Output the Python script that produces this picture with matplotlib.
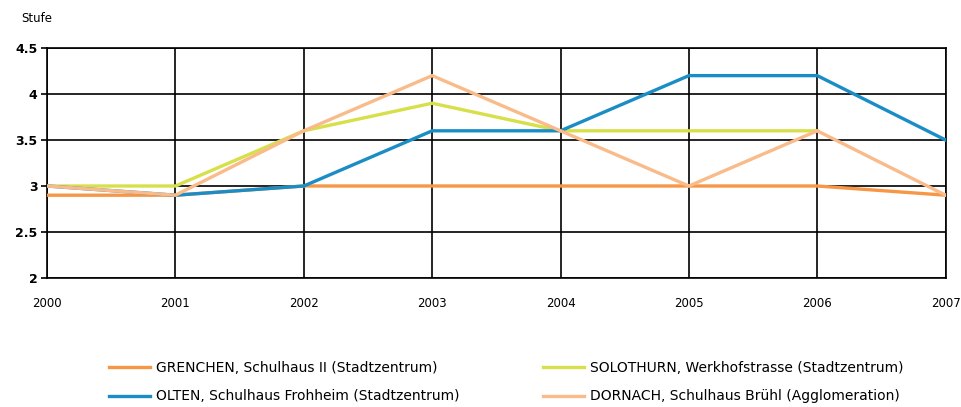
import numpy as np
import matplotlib.pyplot as plt

years = [2000, 2001, 2002, 2003, 2004, 2005, 2006, 2007]
grenchen = [2.9, 2.9, 3.0, 3.0, 3.0, 3.0, 3.0, 2.9]
solothurn = [3.0, 3.0, 3.6, 3.9, 3.6, 3.6, 3.6, np.nan]
olten = [3.0, 2.9, 3.0, 3.6, 3.6, 4.2, 4.2, 3.5]
dornach = [3.0, 2.9, 3.6, 4.2, 3.6, 3.0, 3.6, 2.9]

labels = ["GRENCHEN, Schulhaus II (Stadtzentrum)",
          "SOLOTHURN, Werkhofstrasse (Stadtzentrum)",
          "OLTEN, Schulhaus Frohheim (Stadtzentrum)",
          "DORNACH, Schulhaus Brühl (Agglomeration)"]
colors = ["#F79646", "#D7E04A", "#1A8CC6", "#F9BB8A"]

fig = plt.figure(figsize=(9.61, 4.07), dpi=100)
ax = fig.add_axes([0.049, 0.317, 0.935, 0.565])

lines = {}
for name, vals, col in zip(labels, [grenchen, solothurn, olten, dornach], colors):
    lines[name], = ax.plot(years, vals, color=col, lw=2.4, label=name,
                           solid_joinstyle="miter", zorder=3)
# dornach sits over olten at the start
lines[labels[3]].set_zorder(3.5)

ax.set_xlim(2000, 2007)
ax.set_ylim(2, 4.5)
ax.set_xticks(years)
ax.set_yticks([2, 2.5, 3, 3.5, 4, 4.5])
ax.set_yticklabels(["2", "2.5", "3", "3.5", "4", "4.5"], fontweight="bold")
ax.grid(True, color="black", lw=1.2, zorder=1)
for s in ax.spines.values():
    s.set_color("black")
    s.set_linewidth(1.2)
ax.tick_params(axis="y", length=4, width=1.2, labelsize=9, pad=3)
ax.tick_params(axis="x", length=0, labelsize=8.5, pad=14)

fig.text(0.022, 0.955, "Stufe", fontsize=8.5, va="center", ha="left")

order = [labels[0], labels[2], labels[1], labels[3]]
fig.legend([lines[n] for n in order], order, ncol=2, loc="lower left",
           bbox_to_anchor=(0.1, -0.022), frameon=False, fontsize=10,
           handlelength=3.0, handletextpad=0.4, columnspacing=6.0,
           labelspacing=1.05)

fig.savefig("out.png", dpi=100)
